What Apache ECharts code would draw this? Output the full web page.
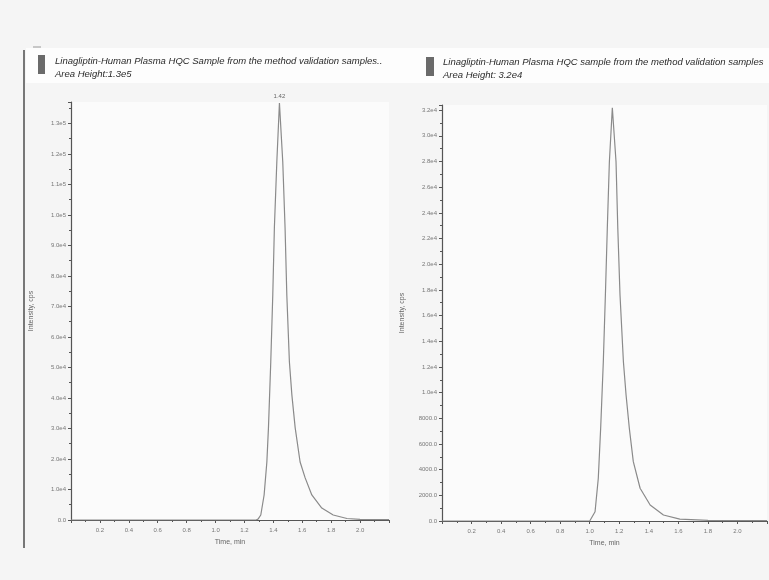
<!DOCTYPE html>
<html><head><meta charset="utf-8">
<script src="https://cdn.jsdelivr.net/npm/echarts@6/dist/echarts.min.js"></script>
<style>html,body{margin:0;padding:0;background:#f5f5f5}#c{width:769px;height:580px}</style>
</head><body><div id="c"></div>
<script>
// ---- data (time in min, intensity in cps) ----
const leftTitle1 = "Linagliptin-Human Plasma HQC Sample from the method validation samples..";
const leftTitle2 = "Area Height:1.3e5";
const rightTitle1 = "Linagliptin-Human Plasma HQC sample from the method validation samples";
const rightTitle2 = "Area Height: 3.2e4";
const peakLabel = "1.42";
const xName = "Time, min";
const yName = "Intensity, cps";

const leftTime = [0, 1.28, 1.294, 1.313, 1.336, 1.355, 1.366, 1.382, 1.396, 1.407, 1.424, 1.442, 1.465, 1.481, 1.493, 1.511, 1.528, 1.551, 1.585, 1.62, 1.666, 1.735, 1.814, 1.909, 2.0, 2.2];
const leftIntensity = [0, 0, 300, 1640, 8200, 19000, 30200, 51800, 73800, 95700, 117400, 136700, 117400, 95700, 73800, 51800, 41000, 30200, 19000, 13800, 8200, 3900, 1640, 500, 200, 100];

const rightTime = [0, 1.0, 1.013, 1.036, 1.058, 1.074, 1.092, 1.106, 1.119, 1.133, 1.153, 1.178, 1.19, 1.205, 1.228, 1.246, 1.268, 1.295, 1.341, 1.409, 1.499, 1.61, 1.8, 2.2];
const rightIntensity = [0, 0, 100, 720, 3330, 7220, 12400, 17600, 22800, 27980, 32190, 27980, 22800, 17600, 12400, 9810, 7220, 4620, 2550, 1250, 470, 150, 50, 30];

// ---- build ----
function pts(t, v) { return t.map((x, i) => [x, v[i]]); }
function peakMark(t, v, label) {
  if (!label) return undefined;
  let m = 0;
  v.forEach((y, i) => { if (y > v[m]) m = i; });
  return {
    symbol: 'circle', symbolSize: 1, silent: true,
    itemStyle: { color: 'rgba(0,0,0,0)' },
    label: { show: true, formatter: label, position: 'top', distance: 3, fontSize: 6, color: '#666', fontFamily: 'Liberation Sans' },
    data: [{ coord: [t[m], v[m]] }]
  };
}
const axisColor = '#555';
const labelStyle = { fontSize: 6, color: '#777', fontFamily: 'Liberation Sans' };
function xAxis(idx) {
  return {
    type: 'value', gridIndex: idx, min: 0, max: 2.2, interval: 0.2,
    name: xName, nameLocation: 'middle', nameGap: 19,
    nameTextStyle: { fontSize: 7, color: '#666', fontFamily: 'Liberation Sans' },
    axisLine: { show: true, onZero: false, lineStyle: { color: axisColor, width: 1.2 } },
    axisTick: { show: true, length: 3, lineStyle: { color: axisColor } },
    minorTick: { show: true, splitNumber: 2, length: 2, lineStyle: { color: axisColor } },
    axisLabel: Object.assign({ margin: 7, showMinLabel: false, showMaxLabel: false, formatter: v => v.toFixed(1) }, labelStyle),
    splitLine: { show: false }
  };
}
function fmtLeft(v) { return v === 0 ? '0.0' : v.toExponential(1).replace('e+', 'e'); }
function fmtRight(v) { return v >= 10000 ? v.toExponential(1).replace('e+', 'e') : v.toFixed(1); }
function yAxis(idx, max, interval, fmt) {
  return {
    type: 'value', gridIndex: idx, min: 0, max: max, interval: interval,
    name: yName, nameLocation: 'middle', nameGap: 36, nameRotate: 90,
    nameTextStyle: { fontSize: 7, color: '#666', fontFamily: 'Liberation Sans' },
    axisLine: { show: true, lineStyle: { color: axisColor, width: 1.2 } },
    axisTick: { show: true, length: 3, lineStyle: { color: axisColor } },
    minorTick: { show: true, splitNumber: 2, length: 2, lineStyle: { color: axisColor } },
    axisLabel: Object.assign({ margin: 5, showMaxLabel: false, formatter: fmt }, labelStyle),
    splitLine: { show: false }
  };
}
const titleFont = { fontSize: 9.5, fontStyle: 'italic', fill: '#2a2a2a', fontFamily: 'Liberation Sans' };
const option = {
  backgroundColor: '#f5f5f5',
  animation: false,
  grid: [
    { left: 71, width: 318, top: 102, bottom: 60, show: true, backgroundColor: '#fbfbfb', borderWidth: 0 },
    { left: 442, width: 325, top: 105, bottom: 59, show: true, backgroundColor: '#fbfbfb', borderWidth: 0 }
  ],
  xAxis: [xAxis(0), xAxis(1)],
  yAxis: [yAxis(0, 137000, 10000, fmtLeft), yAxis(1, 32400, 2000, fmtRight)],
  series: [
    { type: 'line', xAxisIndex: 0, yAxisIndex: 0, data: pts(leftTime, leftIntensity), showSymbol: false, symbol: 'none', lineStyle: { color: '#8a8a8a', width: 1.2 }, markPoint: peakMark(leftTime, leftIntensity, peakLabel) },
    { type: 'line', xAxisIndex: 1, yAxisIndex: 1, data: pts(rightTime, rightIntensity), showSymbol: false, symbol: 'none', lineStyle: { color: '#8a8a8a', width: 1.2 } }
  ],
  graphic: [
    { type: 'rect', shape: { x: 26, y: 48, width: 743, height: 35 }, style: { fill: '#fdfdfd' }, z: 0 },
    { type: 'line', shape: { x1: 24, y1: 50, x2: 24, y2: 548 }, style: { stroke: '#777', lineWidth: 2 } },
    { type: 'line', shape: { x1: 33, y1: 47, x2: 41, y2: 47 }, style: { stroke: '#999', lineWidth: 1 } },
    { type: 'rect', shape: { x: 38, y: 55, width: 7, height: 19 }, style: { fill: '#6a6a6a' } },
    { type: 'text', left: 55, top: 56, style: Object.assign({ text: leftTitle1 }, titleFont) },
    { type: 'text', left: 55, top: 69, style: Object.assign({ text: leftTitle2 }, titleFont) },
    { type: 'rect', shape: { x: 426, y: 57, width: 8, height: 19 }, style: { fill: '#6a6a6a' } },
    { type: 'text', left: 443, top: 57, style: Object.assign({ text: rightTitle1 }, titleFont) },
    { type: 'text', left: 443, top: 70, style: Object.assign({ text: rightTitle2 }, titleFont) }
  ]
};
echarts.init(document.getElementById('c'), null, { renderer: 'canvas' }).setOption(option);
</script></body></html>
